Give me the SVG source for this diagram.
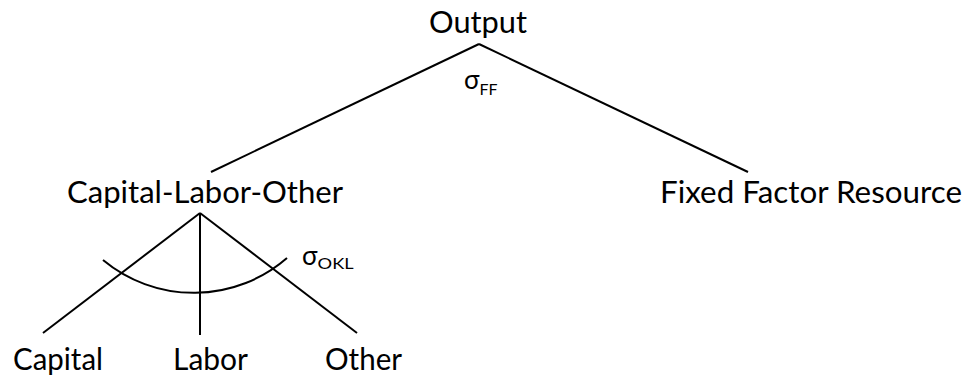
<svg xmlns="http://www.w3.org/2000/svg" width="969" height="376" viewBox="0 0 969 376">
<style>
.t{font-family:Lato,"Open Sans","Liberation Sans",sans-serif;font-size:30px;fill:#000}
.s{font-family:Lato,"Open Sans","Liberation Sans",sans-serif;font-size:26px;fill:#000}
.sub{font-size:15px}
.c{stroke:#000;stroke-width:2;fill:none;stroke-linecap:butt}
</style>
<rect width="969" height="376" fill="#fff"/>
<g id="connectors">
<line class="c" x1="479" y1="44" x2="211" y2="172"/>
<line class="c" x1="479" y1="44" x2="748" y2="172"/>
<line class="c" x1="200" y1="213" x2="43" y2="333"/>
<line class="c" x1="200" y1="213" x2="200" y2="335"/>
<line class="c" x1="200" y1="213" x2="357" y2="333"/>
<path class="c" d="M103,260 A142,142 0 0 0 287,258"/>
</g>
<g id="output"><text class="t" x="429" y="33" textLength="98" lengthAdjust="spacingAndGlyphs">Output</text></g>
<g id="sigma-ff"><text class="s" x="464" y="89">σ<tspan class="sub" dy="6" textLength="18" lengthAdjust="spacingAndGlyphs">FF</tspan></text></g>
<g id="capital-labor-other"><text class="t" x="67" y="203" textLength="276" lengthAdjust="spacingAndGlyphs">Capital-Labor-Other</text></g>
<g id="fixed-factor"><text class="t" x="660" y="203" textLength="302" lengthAdjust="spacingAndGlyphs">Fixed Factor Resource</text></g>
<g id="sigma-okl"><text class="s" x="302" y="265">σ<tspan class="sub" dy="4" textLength="36" lengthAdjust="spacingAndGlyphs">OKL</tspan></text></g>
<g id="capital"><text class="t" x="13" y="370" textLength="90" lengthAdjust="spacingAndGlyphs">Capital</text></g>
<g id="labor"><text class="t" x="173" y="370" textLength="75" lengthAdjust="spacingAndGlyphs">Labor</text></g>
<g id="other"><text class="t" x="325" y="370" textLength="77" lengthAdjust="spacingAndGlyphs">Other</text></g>
</svg>
